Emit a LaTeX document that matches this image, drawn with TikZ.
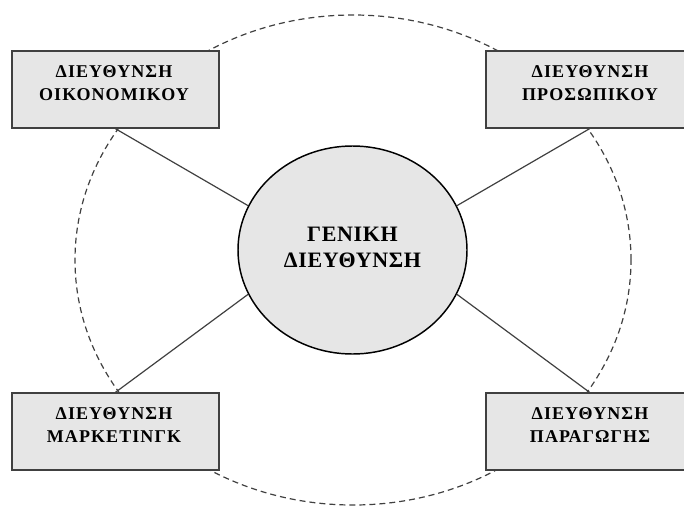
\documentclass[tikz,border=0pt]{standalone}
\usepackage{fontspec}
\setmainfont{Liberation Serif}
\usetikzlibrary{shadows,shapes.geometric}

\definecolor{boxfill}{HTML}{E6E6E6}
\definecolor{edgegray}{HTML}{404040}

\tikzset{
  dirbox/.style={rectangle, draw=edgegray, line width=1.1pt, fill=boxfill,
    minimum width=155.25pt, minimum height=57.75pt, inner sep=0pt,
    general shadow={shadow xshift=-1pt, shadow yshift=-1pt, fill=edgegray}},
  dirtext/.style={align=center, inner sep=0pt,
    font=\fontsize{13.5}{17.25}\selectfont\bfseries\addfontfeature{LetterSpace=6}},
  headshape/.style={ellipse, draw=black, line width=1.1pt, fill=boxfill,
    minimum width=171.75pt, minimum height=156pt, inner sep=0pt},
  headtext/.style={align=center, inner sep=0pt,
    font=\fontsize{16.5}{19.5}\selectfont\bfseries\addfontfeature{LetterSpace=3}},
  link/.style={draw=edgegray, line width=0.9pt},
  ring/.style={draw=edgegray, line width=0.9pt, dash pattern=on 4.5pt off 3pt}
}

\begin{document}
\begin{tikzpicture}[x=0.75pt, y=-0.75pt]
  \useasboundingbox (0,0) rectangle (684,507);

  % dashed ring through the four departments
  \draw[ring] (353,260) ellipse [x radius=208.5pt, y radius=183.75pt];

  % general management in the middle
  \node[headshape] (gen) at (352.5,250) {};
  \node[headtext] (gentext) at (352.5,247) {ΓΕΝΙΚΗ\\ΔΙΕΥΘΥΝΣΗ};

  % departments
  \node[dirbox] (fin) at (115.5,89.5) {};
  \node[dirtext] (fintext) at (114,83) {ΔΙΕΥΘΥΝΣΗ\\ΟΙΚΟΝΟΜΙΚΟΥ};

  \node[dirbox] (hr) at (589.5,89.5) {};
  \node[dirtext] (hrtext) at (590,83) {ΔΙΕΥΘΥΝΣΗ\\ΠΡΟΣΩΠΙΚΟΥ};

  \node[dirbox] (mkt) at (115.5,431.5) {};
  \node[dirtext] (mkttext) at (114,425) {ΔΙΕΥΘΥΝΣΗ\\ΜΑΡΚΕΤΙΝΓΚ};

  \node[dirbox] (prod) at (589.5,431.5) {};
  \node[dirtext] (prodtext) at (590,425) {ΔΙΕΥΘΥΝΣΗ\\ΠΑΡΑΓΩΓΗΣ};

  % links to the centre
  \draw[link] (fin.south) -- (gen.157);
  \draw[link] (hr.south) -- (gen.23);
  \draw[link] (mkt.north) -- (gen.203);
  \draw[link] (prod.north) -- (gen.337);
\end{tikzpicture}
\end{document}
